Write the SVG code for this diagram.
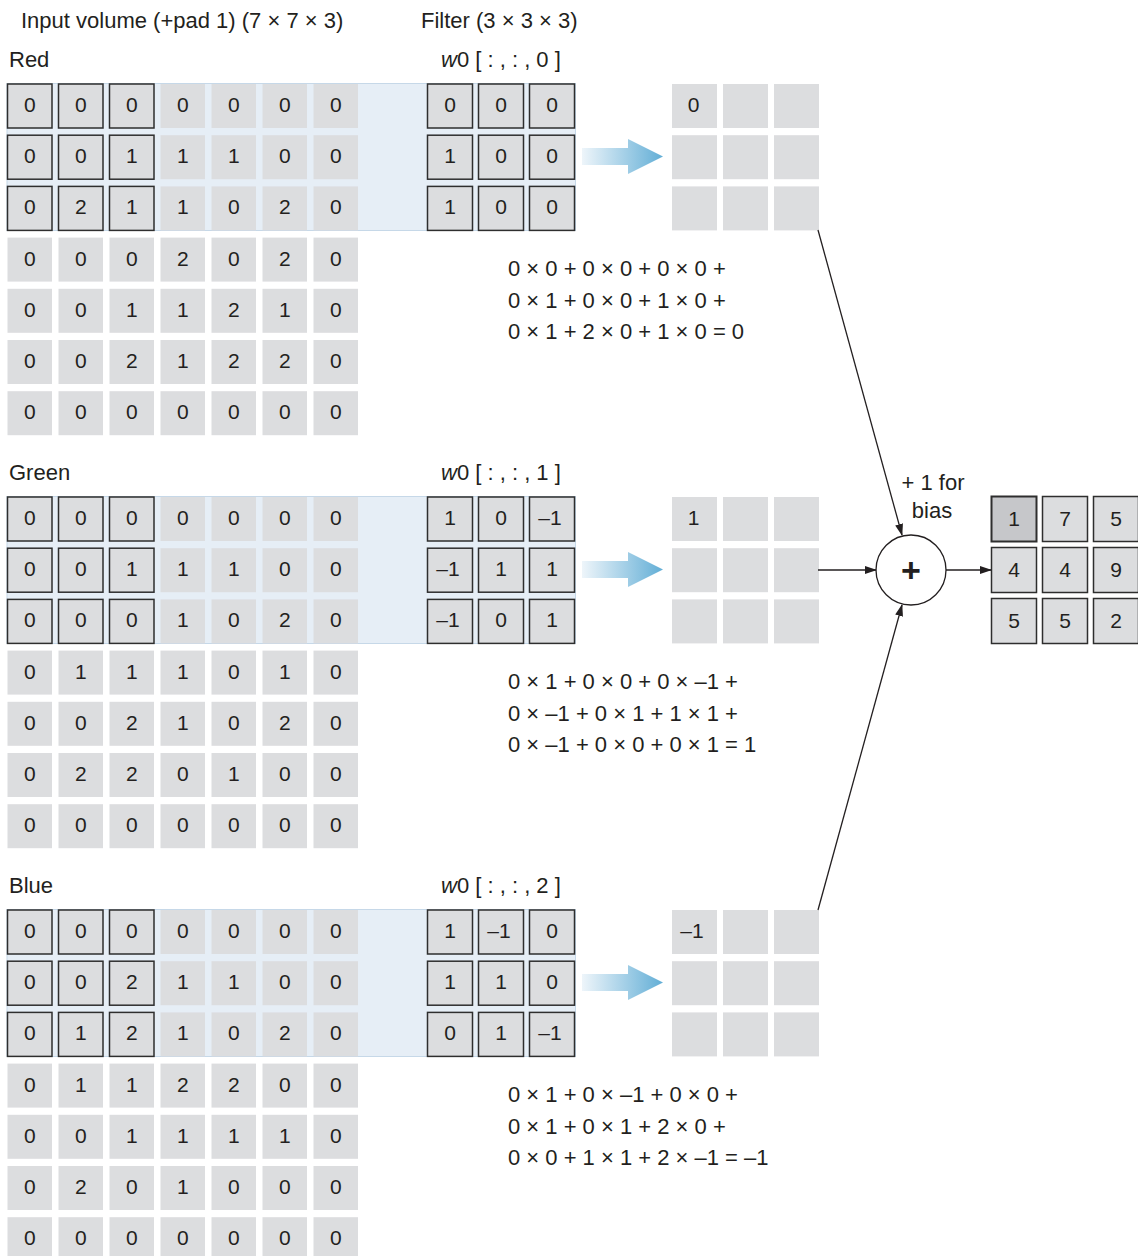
<svg xmlns="http://www.w3.org/2000/svg" width="1138" height="1256" viewBox="0 0 1138 1256">
<defs>
<style>
text{font-family:"Liberation Sans",Arial,sans-serif;fill:#231f20;}
.t{font-size:22px;}
.c{font-size:21px;text-anchor:middle;}
.g{fill:#dcdddf;}
.b{fill:#dcdddf;stroke:#2e2e2e;stroke-width:1.5;}
.band{fill:#e6eef6;stroke:#c6d8e8;stroke-width:1;}
.ln{stroke:#231f20;stroke-width:1.3;fill:none;marker-end:url(#ah);}
.fat{fill:url(#bg);}
</style>
<linearGradient id="bg" x1="0" y1="0" x2="1" y2="0">
<stop offset="0" stop-color="#eef5fa"/>
<stop offset="1" stop-color="#62aed6"/>
</linearGradient>
<marker id="ah" markerUnits="userSpaceOnUse" markerWidth="12" markerHeight="8" refX="11" refY="4" orient="auto">
<path d="M0,0 L12,4 L0,8 z" fill="#231f20"/>
</marker>
</defs>
<rect width="1138" height="1256" fill="#ffffff"/>

<g id="headers">
<text class="t" x="21" y="28">Input volume (+pad 1) (7 × 7 × 3)</text>
<text class="t" x="421" y="28">Filter (3 × 3 × 3)</text>
</g>

<!-- RED -->
<g id="red">
<text class="t" x="9" y="67">Red</text>
<text class="t" x="441" y="67"><tspan font-style="italic">w</tspan>0 [ : , : , 0 ]</text>
<rect class="band" x="7" y="83.5" width="568.5" height="147"/>
<g id="red-input">
<rect class="b" x="7.5" y="84" width="44.5" height="44"/><rect class="b" x="58.5" y="84" width="44.5" height="44"/><rect class="b" x="109.5" y="84" width="44.5" height="44"/><rect class="g" x="160.5" y="84" width="44.5" height="44"/><rect class="g" x="211.5" y="84" width="44.5" height="44"/><rect class="g" x="262.5" y="84" width="44.5" height="44"/><rect class="g" x="313.5" y="84" width="44.5" height="44"/>
<rect class="b" x="7.5" y="135.2" width="44.5" height="44"/><rect class="b" x="58.5" y="135.2" width="44.5" height="44"/><rect class="b" x="109.5" y="135.2" width="44.5" height="44"/><rect class="g" x="160.5" y="135.2" width="44.5" height="44"/><rect class="g" x="211.5" y="135.2" width="44.5" height="44"/><rect class="g" x="262.5" y="135.2" width="44.5" height="44"/><rect class="g" x="313.5" y="135.2" width="44.5" height="44"/>
<rect class="b" x="7.5" y="186.4" width="44.5" height="44"/><rect class="b" x="58.5" y="186.4" width="44.5" height="44"/><rect class="b" x="109.5" y="186.4" width="44.5" height="44"/><rect class="g" x="160.5" y="186.4" width="44.5" height="44"/><rect class="g" x="211.5" y="186.4" width="44.5" height="44"/><rect class="g" x="262.5" y="186.4" width="44.5" height="44"/><rect class="g" x="313.5" y="186.4" width="44.5" height="44"/>
<rect class="g" x="7.5" y="237.6" width="44.5" height="44"/><rect class="g" x="58.5" y="237.6" width="44.5" height="44"/><rect class="g" x="109.5" y="237.6" width="44.5" height="44"/><rect class="g" x="160.5" y="237.6" width="44.5" height="44"/><rect class="g" x="211.5" y="237.6" width="44.5" height="44"/><rect class="g" x="262.5" y="237.6" width="44.5" height="44"/><rect class="g" x="313.5" y="237.6" width="44.5" height="44"/>
<rect class="g" x="7.5" y="288.8" width="44.5" height="44"/><rect class="g" x="58.5" y="288.8" width="44.5" height="44"/><rect class="g" x="109.5" y="288.8" width="44.5" height="44"/><rect class="g" x="160.5" y="288.8" width="44.5" height="44"/><rect class="g" x="211.5" y="288.8" width="44.5" height="44"/><rect class="g" x="262.5" y="288.8" width="44.5" height="44"/><rect class="g" x="313.5" y="288.8" width="44.5" height="44"/>
<rect class="g" x="7.5" y="340" width="44.5" height="44"/><rect class="g" x="58.5" y="340" width="44.5" height="44"/><rect class="g" x="109.5" y="340" width="44.5" height="44"/><rect class="g" x="160.5" y="340" width="44.5" height="44"/><rect class="g" x="211.5" y="340" width="44.5" height="44"/><rect class="g" x="262.5" y="340" width="44.5" height="44"/><rect class="g" x="313.5" y="340" width="44.5" height="44"/>
<rect class="g" x="7.5" y="391.2" width="44.5" height="44"/><rect class="g" x="58.5" y="391.2" width="44.5" height="44"/><rect class="g" x="109.5" y="391.2" width="44.5" height="44"/><rect class="g" x="160.5" y="391.2" width="44.5" height="44"/><rect class="g" x="211.5" y="391.2" width="44.5" height="44"/><rect class="g" x="262.5" y="391.2" width="44.5" height="44"/><rect class="g" x="313.5" y="391.2" width="44.5" height="44"/>
<text class="c" y="112"><tspan x="29.75">0</tspan><tspan x="80.75">0</tspan><tspan x="131.75">0</tspan><tspan x="182.75">0</tspan><tspan x="233.75">0</tspan><tspan x="284.75">0</tspan><tspan x="335.75">0</tspan></text>
<text class="c" y="163.2"><tspan x="29.75">0</tspan><tspan x="80.75">0</tspan><tspan x="131.75">1</tspan><tspan x="182.75">1</tspan><tspan x="233.75">1</tspan><tspan x="284.75">0</tspan><tspan x="335.75">0</tspan></text>
<text class="c" y="214.4"><tspan x="29.75">0</tspan><tspan x="80.75">2</tspan><tspan x="131.75">1</tspan><tspan x="182.75">1</tspan><tspan x="233.75">0</tspan><tspan x="284.75">2</tspan><tspan x="335.75">0</tspan></text>
<text class="c" y="265.6"><tspan x="29.75">0</tspan><tspan x="80.75">0</tspan><tspan x="131.75">0</tspan><tspan x="182.75">2</tspan><tspan x="233.75">0</tspan><tspan x="284.75">2</tspan><tspan x="335.75">0</tspan></text>
<text class="c" y="316.8"><tspan x="29.75">0</tspan><tspan x="80.75">0</tspan><tspan x="131.75">1</tspan><tspan x="182.75">1</tspan><tspan x="233.75">2</tspan><tspan x="284.75">1</tspan><tspan x="335.75">0</tspan></text>
<text class="c" y="368"><tspan x="29.75">0</tspan><tspan x="80.75">0</tspan><tspan x="131.75">2</tspan><tspan x="182.75">1</tspan><tspan x="233.75">2</tspan><tspan x="284.75">2</tspan><tspan x="335.75">0</tspan></text>
<text class="c" y="419.2"><tspan x="29.75">0</tspan><tspan x="80.75">0</tspan><tspan x="131.75">0</tspan><tspan x="182.75">0</tspan><tspan x="233.75">0</tspan><tspan x="284.75">0</tspan><tspan x="335.75">0</tspan></text>
</g>
<g id="red-filter">
<rect class="b" x="427.5" y="84" width="45" height="44"/><rect class="b" x="478.5" y="84" width="45" height="44"/><rect class="b" x="529.5" y="84" width="45" height="44"/>
<rect class="b" x="427.5" y="135.2" width="45" height="44"/><rect class="b" x="478.5" y="135.2" width="45" height="44"/><rect class="b" x="529.5" y="135.2" width="45" height="44"/>
<rect class="b" x="427.5" y="186.4" width="45" height="44"/><rect class="b" x="478.5" y="186.4" width="45" height="44"/><rect class="b" x="529.5" y="186.4" width="45" height="44"/>
<text class="c" y="112"><tspan x="450">0</tspan><tspan x="501">0</tspan><tspan x="552">0</tspan></text>
<text class="c" y="163.2"><tspan x="450">1</tspan><tspan x="501">0</tspan><tspan x="552">0</tspan></text>
<text class="c" y="214.4"><tspan x="450">1</tspan><tspan x="501">0</tspan><tspan x="552">0</tspan></text>
</g>
<g id="red-partial">
<rect class="g" x="672" y="84" width="45" height="44"/><rect class="g" x="723" y="84" width="45" height="44"/><rect class="g" x="774" y="84" width="45" height="44"/>
<rect class="g" x="672" y="135.2" width="45" height="44"/><rect class="g" x="723" y="135.2" width="45" height="44"/><rect class="g" x="774" y="135.2" width="45" height="44"/>
<rect class="g" x="672" y="186.4" width="45" height="44"/><rect class="g" x="723" y="186.4" width="45" height="44"/><rect class="g" x="774" y="186.4" width="45" height="44"/>
<text class="c" x="693.5" y="112">0</text>
</g>
<g id="red-formula">
<text class="t" x="508" y="276">0 × 0 + 0 × 0 + 0 × 0 +</text>
<text class="t" x="508" y="308">0 × 1 + 0 × 0 + 1 × 0 +</text>
<text class="t" x="508" y="339">0 × 1 + 2 × 0 + 1 × 0 = 0</text>
</g>
</g>

<!-- GREEN -->
<g id="green" transform="translate(0,413)">
<text class="t" x="9" y="67">Green</text>
<text class="t" x="441" y="67"><tspan font-style="italic">w</tspan>0 [ : , : , 1 ]</text>
<rect class="band" x="7" y="83.5" width="568.5" height="147"/>
<g id="green-input">
<rect class="b" x="7.5" y="84" width="44.5" height="44"/><rect class="b" x="58.5" y="84" width="44.5" height="44"/><rect class="b" x="109.5" y="84" width="44.5" height="44"/><rect class="g" x="160.5" y="84" width="44.5" height="44"/><rect class="g" x="211.5" y="84" width="44.5" height="44"/><rect class="g" x="262.5" y="84" width="44.5" height="44"/><rect class="g" x="313.5" y="84" width="44.5" height="44"/>
<rect class="b" x="7.5" y="135.2" width="44.5" height="44"/><rect class="b" x="58.5" y="135.2" width="44.5" height="44"/><rect class="b" x="109.5" y="135.2" width="44.5" height="44"/><rect class="g" x="160.5" y="135.2" width="44.5" height="44"/><rect class="g" x="211.5" y="135.2" width="44.5" height="44"/><rect class="g" x="262.5" y="135.2" width="44.5" height="44"/><rect class="g" x="313.5" y="135.2" width="44.5" height="44"/>
<rect class="b" x="7.5" y="186.4" width="44.5" height="44"/><rect class="b" x="58.5" y="186.4" width="44.5" height="44"/><rect class="b" x="109.5" y="186.4" width="44.5" height="44"/><rect class="g" x="160.5" y="186.4" width="44.5" height="44"/><rect class="g" x="211.5" y="186.4" width="44.5" height="44"/><rect class="g" x="262.5" y="186.4" width="44.5" height="44"/><rect class="g" x="313.5" y="186.4" width="44.5" height="44"/>
<rect class="g" x="7.5" y="237.6" width="44.5" height="44"/><rect class="g" x="58.5" y="237.6" width="44.5" height="44"/><rect class="g" x="109.5" y="237.6" width="44.5" height="44"/><rect class="g" x="160.5" y="237.6" width="44.5" height="44"/><rect class="g" x="211.5" y="237.6" width="44.5" height="44"/><rect class="g" x="262.5" y="237.6" width="44.5" height="44"/><rect class="g" x="313.5" y="237.6" width="44.5" height="44"/>
<rect class="g" x="7.5" y="288.8" width="44.5" height="44"/><rect class="g" x="58.5" y="288.8" width="44.5" height="44"/><rect class="g" x="109.5" y="288.8" width="44.5" height="44"/><rect class="g" x="160.5" y="288.8" width="44.5" height="44"/><rect class="g" x="211.5" y="288.8" width="44.5" height="44"/><rect class="g" x="262.5" y="288.8" width="44.5" height="44"/><rect class="g" x="313.5" y="288.8" width="44.5" height="44"/>
<rect class="g" x="7.5" y="340" width="44.5" height="44"/><rect class="g" x="58.5" y="340" width="44.5" height="44"/><rect class="g" x="109.5" y="340" width="44.5" height="44"/><rect class="g" x="160.5" y="340" width="44.5" height="44"/><rect class="g" x="211.5" y="340" width="44.5" height="44"/><rect class="g" x="262.5" y="340" width="44.5" height="44"/><rect class="g" x="313.5" y="340" width="44.5" height="44"/>
<rect class="g" x="7.5" y="391.2" width="44.5" height="44"/><rect class="g" x="58.5" y="391.2" width="44.5" height="44"/><rect class="g" x="109.5" y="391.2" width="44.5" height="44"/><rect class="g" x="160.5" y="391.2" width="44.5" height="44"/><rect class="g" x="211.5" y="391.2" width="44.5" height="44"/><rect class="g" x="262.5" y="391.2" width="44.5" height="44"/><rect class="g" x="313.5" y="391.2" width="44.5" height="44"/>
<text class="c" y="112"><tspan x="29.75">0</tspan><tspan x="80.75">0</tspan><tspan x="131.75">0</tspan><tspan x="182.75">0</tspan><tspan x="233.75">0</tspan><tspan x="284.75">0</tspan><tspan x="335.75">0</tspan></text>
<text class="c" y="163.2"><tspan x="29.75">0</tspan><tspan x="80.75">0</tspan><tspan x="131.75">1</tspan><tspan x="182.75">1</tspan><tspan x="233.75">1</tspan><tspan x="284.75">0</tspan><tspan x="335.75">0</tspan></text>
<text class="c" y="214.4"><tspan x="29.75">0</tspan><tspan x="80.75">0</tspan><tspan x="131.75">0</tspan><tspan x="182.75">1</tspan><tspan x="233.75">0</tspan><tspan x="284.75">2</tspan><tspan x="335.75">0</tspan></text>
<text class="c" y="265.6"><tspan x="29.75">0</tspan><tspan x="80.75">1</tspan><tspan x="131.75">1</tspan><tspan x="182.75">1</tspan><tspan x="233.75">0</tspan><tspan x="284.75">1</tspan><tspan x="335.75">0</tspan></text>
<text class="c" y="316.8"><tspan x="29.75">0</tspan><tspan x="80.75">0</tspan><tspan x="131.75">2</tspan><tspan x="182.75">1</tspan><tspan x="233.75">0</tspan><tspan x="284.75">2</tspan><tspan x="335.75">0</tspan></text>
<text class="c" y="368"><tspan x="29.75">0</tspan><tspan x="80.75">2</tspan><tspan x="131.75">2</tspan><tspan x="182.75">0</tspan><tspan x="233.75">1</tspan><tspan x="284.75">0</tspan><tspan x="335.75">0</tspan></text>
<text class="c" y="419.2"><tspan x="29.75">0</tspan><tspan x="80.75">0</tspan><tspan x="131.75">0</tspan><tspan x="182.75">0</tspan><tspan x="233.75">0</tspan><tspan x="284.75">0</tspan><tspan x="335.75">0</tspan></text>
</g>
<g id="green-filter">
<rect class="b" x="427.5" y="84" width="45" height="44"/><rect class="b" x="478.5" y="84" width="45" height="44"/><rect class="b" x="529.5" y="84" width="45" height="44"/>
<rect class="b" x="427.5" y="135.2" width="45" height="44"/><rect class="b" x="478.5" y="135.2" width="45" height="44"/><rect class="b" x="529.5" y="135.2" width="45" height="44"/>
<rect class="b" x="427.5" y="186.4" width="45" height="44"/><rect class="b" x="478.5" y="186.4" width="45" height="44"/><rect class="b" x="529.5" y="186.4" width="45" height="44"/>
<text class="c" y="112"><tspan x="450">1</tspan><tspan x="501">0</tspan><tspan x="550">–1</tspan></text>
<text class="c" y="163.2"><tspan x="448">–1</tspan><tspan x="501">1</tspan><tspan x="552">1</tspan></text>
<text class="c" y="214.4"><tspan x="448">–1</tspan><tspan x="501">0</tspan><tspan x="552">1</tspan></text>
</g>
<g id="green-partial">
<rect class="g" x="672" y="84" width="45" height="44"/><rect class="g" x="723" y="84" width="45" height="44"/><rect class="g" x="774" y="84" width="45" height="44"/>
<rect class="g" x="672" y="135.2" width="45" height="44"/><rect class="g" x="723" y="135.2" width="45" height="44"/><rect class="g" x="774" y="135.2" width="45" height="44"/>
<rect class="g" x="672" y="186.4" width="45" height="44"/><rect class="g" x="723" y="186.4" width="45" height="44"/><rect class="g" x="774" y="186.4" width="45" height="44"/>
<text class="c" x="693.5" y="112">1</text>
</g>
<g id="green-formula">
<text class="t" x="508" y="276">0 × 1 + 0 × 0 + 0 × –1 +</text>
<text class="t" x="508" y="308">0 × –1 + 0 × 1 + 1 × 1 +</text>
<text class="t" x="508" y="339">0 × –1 + 0 × 0 + 0 × 1 = 1</text>
</g>
</g>

<!-- BLUE -->
<g id="blue" transform="translate(0,826)">
<text class="t" x="9" y="67">Blue</text>
<text class="t" x="441" y="67"><tspan font-style="italic">w</tspan>0 [ : , : , 2 ]</text>
<rect class="band" x="7" y="83.5" width="568.5" height="147"/>
<g id="blue-input">
<rect class="b" x="7.5" y="84" width="44.5" height="44"/><rect class="b" x="58.5" y="84" width="44.5" height="44"/><rect class="b" x="109.5" y="84" width="44.5" height="44"/><rect class="g" x="160.5" y="84" width="44.5" height="44"/><rect class="g" x="211.5" y="84" width="44.5" height="44"/><rect class="g" x="262.5" y="84" width="44.5" height="44"/><rect class="g" x="313.5" y="84" width="44.5" height="44"/>
<rect class="b" x="7.5" y="135.2" width="44.5" height="44"/><rect class="b" x="58.5" y="135.2" width="44.5" height="44"/><rect class="b" x="109.5" y="135.2" width="44.5" height="44"/><rect class="g" x="160.5" y="135.2" width="44.5" height="44"/><rect class="g" x="211.5" y="135.2" width="44.5" height="44"/><rect class="g" x="262.5" y="135.2" width="44.5" height="44"/><rect class="g" x="313.5" y="135.2" width="44.5" height="44"/>
<rect class="b" x="7.5" y="186.4" width="44.5" height="44"/><rect class="b" x="58.5" y="186.4" width="44.5" height="44"/><rect class="b" x="109.5" y="186.4" width="44.5" height="44"/><rect class="g" x="160.5" y="186.4" width="44.5" height="44"/><rect class="g" x="211.5" y="186.4" width="44.5" height="44"/><rect class="g" x="262.5" y="186.4" width="44.5" height="44"/><rect class="g" x="313.5" y="186.4" width="44.5" height="44"/>
<rect class="g" x="7.5" y="237.6" width="44.5" height="44"/><rect class="g" x="58.5" y="237.6" width="44.5" height="44"/><rect class="g" x="109.5" y="237.6" width="44.5" height="44"/><rect class="g" x="160.5" y="237.6" width="44.5" height="44"/><rect class="g" x="211.5" y="237.6" width="44.5" height="44"/><rect class="g" x="262.5" y="237.6" width="44.5" height="44"/><rect class="g" x="313.5" y="237.6" width="44.5" height="44"/>
<rect class="g" x="7.5" y="288.8" width="44.5" height="44"/><rect class="g" x="58.5" y="288.8" width="44.5" height="44"/><rect class="g" x="109.5" y="288.8" width="44.5" height="44"/><rect class="g" x="160.5" y="288.8" width="44.5" height="44"/><rect class="g" x="211.5" y="288.8" width="44.5" height="44"/><rect class="g" x="262.5" y="288.8" width="44.5" height="44"/><rect class="g" x="313.5" y="288.8" width="44.5" height="44"/>
<rect class="g" x="7.5" y="340" width="44.5" height="44"/><rect class="g" x="58.5" y="340" width="44.5" height="44"/><rect class="g" x="109.5" y="340" width="44.5" height="44"/><rect class="g" x="160.5" y="340" width="44.5" height="44"/><rect class="g" x="211.5" y="340" width="44.5" height="44"/><rect class="g" x="262.5" y="340" width="44.5" height="44"/><rect class="g" x="313.5" y="340" width="44.5" height="44"/>
<rect class="g" x="7.5" y="391.2" width="44.5" height="44"/><rect class="g" x="58.5" y="391.2" width="44.5" height="44"/><rect class="g" x="109.5" y="391.2" width="44.5" height="44"/><rect class="g" x="160.5" y="391.2" width="44.5" height="44"/><rect class="g" x="211.5" y="391.2" width="44.5" height="44"/><rect class="g" x="262.5" y="391.2" width="44.5" height="44"/><rect class="g" x="313.5" y="391.2" width="44.5" height="44"/>
<text class="c" y="112"><tspan x="29.75">0</tspan><tspan x="80.75">0</tspan><tspan x="131.75">0</tspan><tspan x="182.75">0</tspan><tspan x="233.75">0</tspan><tspan x="284.75">0</tspan><tspan x="335.75">0</tspan></text>
<text class="c" y="163.2"><tspan x="29.75">0</tspan><tspan x="80.75">0</tspan><tspan x="131.75">2</tspan><tspan x="182.75">1</tspan><tspan x="233.75">1</tspan><tspan x="284.75">0</tspan><tspan x="335.75">0</tspan></text>
<text class="c" y="214.4"><tspan x="29.75">0</tspan><tspan x="80.75">1</tspan><tspan x="131.75">2</tspan><tspan x="182.75">1</tspan><tspan x="233.75">0</tspan><tspan x="284.75">2</tspan><tspan x="335.75">0</tspan></text>
<text class="c" y="265.6"><tspan x="29.75">0</tspan><tspan x="80.75">1</tspan><tspan x="131.75">1</tspan><tspan x="182.75">2</tspan><tspan x="233.75">2</tspan><tspan x="284.75">0</tspan><tspan x="335.75">0</tspan></text>
<text class="c" y="316.8"><tspan x="29.75">0</tspan><tspan x="80.75">0</tspan><tspan x="131.75">1</tspan><tspan x="182.75">1</tspan><tspan x="233.75">1</tspan><tspan x="284.75">1</tspan><tspan x="335.75">0</tspan></text>
<text class="c" y="368"><tspan x="29.75">0</tspan><tspan x="80.75">2</tspan><tspan x="131.75">0</tspan><tspan x="182.75">1</tspan><tspan x="233.75">0</tspan><tspan x="284.75">0</tspan><tspan x="335.75">0</tspan></text>
<text class="c" y="419.2"><tspan x="29.75">0</tspan><tspan x="80.75">0</tspan><tspan x="131.75">0</tspan><tspan x="182.75">0</tspan><tspan x="233.75">0</tspan><tspan x="284.75">0</tspan><tspan x="335.75">0</tspan></text>
</g>
<g id="blue-filter">
<rect class="b" x="427.5" y="84" width="45" height="44"/><rect class="b" x="478.5" y="84" width="45" height="44"/><rect class="b" x="529.5" y="84" width="45" height="44"/>
<rect class="b" x="427.5" y="135.2" width="45" height="44"/><rect class="b" x="478.5" y="135.2" width="45" height="44"/><rect class="b" x="529.5" y="135.2" width="45" height="44"/>
<rect class="b" x="427.5" y="186.4" width="45" height="44"/><rect class="b" x="478.5" y="186.4" width="45" height="44"/><rect class="b" x="529.5" y="186.4" width="45" height="44"/>
<text class="c" y="112"><tspan x="450">1</tspan><tspan x="499">–1</tspan><tspan x="552">0</tspan></text>
<text class="c" y="163.2"><tspan x="450">1</tspan><tspan x="501">1</tspan><tspan x="552">0</tspan></text>
<text class="c" y="214.4"><tspan x="450">0</tspan><tspan x="501">1</tspan><tspan x="550">–1</tspan></text>
</g>
<g id="blue-partial">
<rect class="g" x="672" y="84" width="45" height="44"/><rect class="g" x="723" y="84" width="45" height="44"/><rect class="g" x="774" y="84" width="45" height="44"/>
<rect class="g" x="672" y="135.2" width="45" height="44"/><rect class="g" x="723" y="135.2" width="45" height="44"/><rect class="g" x="774" y="135.2" width="45" height="44"/>
<rect class="g" x="672" y="186.4" width="45" height="44"/><rect class="g" x="723" y="186.4" width="45" height="44"/><rect class="g" x="774" y="186.4" width="45" height="44"/>
<text class="c" x="692" y="112">–1</text>
</g>
<g id="blue-formula">
<text class="t" x="508" y="276">0 × 1 + 0 × –1 + 0 × 0 +</text>
<text class="t" x="508" y="308">0 × 1 + 0 × 1 + 2 × 0 +</text>
<text class="t" x="508" y="339">0 × 0 + 1 × 1 + 2 × –1 = –1</text>
</g>
</g>

<g id="sum-node">
<circle cx="911" cy="570" r="35" fill="#ffffff" stroke="#231f20" stroke-width="1.3"/>
<text x="911" y="582" font-size="34" font-weight="bold" text-anchor="middle">+</text>
</g>
<g id="bias-label">
<text class="t" x="933" y="490" text-anchor="middle">+ 1 for</text>
<text class="t" x="932" y="518" text-anchor="middle">bias</text>
</g>

<g id="output">
<rect x="991.5" y="496.5" width="45" height="45" fill="#c6c7ca" stroke="#2e2e2e" stroke-width="2"/>
<rect class="b" x="1042.5" y="496.5" width="45" height="45"/><rect class="b" x="1093.5" y="496.5" width="45" height="45"/>
<rect class="b" x="991.5" y="547.5" width="45" height="45"/><rect class="b" x="1042.5" y="547.5" width="45" height="45"/><rect class="b" x="1093.5" y="547.5" width="45" height="45"/>
<rect class="b" x="991.5" y="598.5" width="45" height="45"/><rect class="b" x="1042.5" y="598.5" width="45" height="45"/><rect class="b" x="1093.5" y="598.5" width="45" height="45"/>
<text class="c" y="525.5"><tspan x="1014">1</tspan><tspan x="1065">7</tspan><tspan x="1116">5</tspan></text>
<text class="c" y="576.5"><tspan x="1014">4</tspan><tspan x="1065">4</tspan><tspan x="1116">9</tspan></text>
<text class="c" y="627.5"><tspan x="1014">5</tspan><tspan x="1065">5</tspan><tspan x="1116">2</tspan></text>
</g>

<g id="connectors">
<polygon class="fat" points="582,148 628,148 628,139 663,156.5 628,174 628,165 582,165"/>
<polygon class="fat" points="582,561 628,561 628,552 663,569.5 628,587 628,578 582,578"/>
<polygon class="fat" points="582,974 628,974 628,965 663,982.5 628,1000 628,991 582,991"/>
<line class="ln" x1="818" y1="230" x2="902" y2="535"/>
<line class="ln" x1="818" y1="910" x2="902" y2="605"/>
<line class="ln" x1="818" y1="570" x2="876" y2="570"/>
<line class="ln" x1="946" y1="570" x2="991" y2="570"/>
</g>
</svg>
